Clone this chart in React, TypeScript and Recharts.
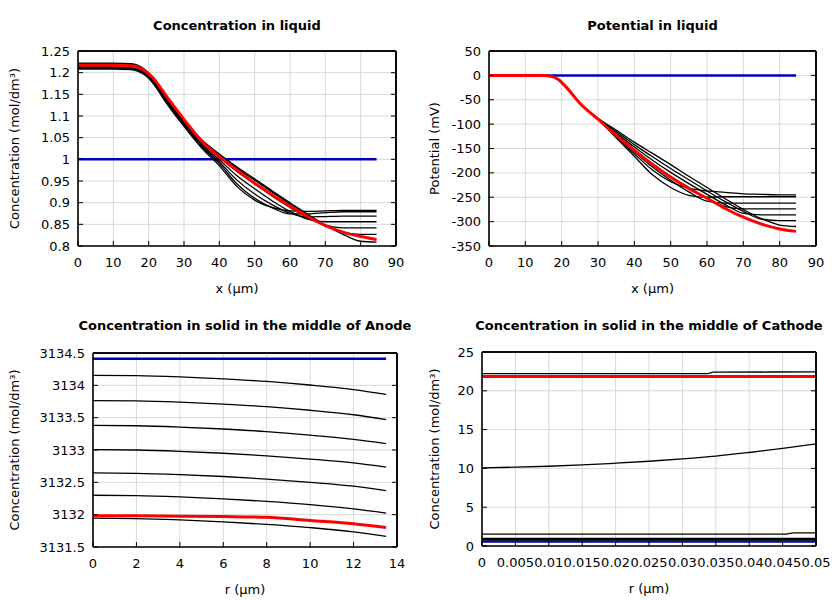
import { LineChart, Line, XAxis, YAxis, CartesianGrid, ReferenceLine } from 'recharts';

const FONT = '"DejaVu Sans", sans-serif';
const BLACK = '#000000';
const RED = '#ff0000';
const BLUE = '#0000c0';

// ---- Concentration in liquid / Potential in liquid (x in µm) ----
const liqX = [0, 5, 10, 15, 17, 19, 21, 25, 30, 35, 40, 45, 50, 55, 60, 65, 70, 75, 80, 84.5];
const liqEdgeX = [0, 84.5];
const liqConcInit = [1, 1];
const liqConcA = [1.208, 1.208, 1.208, 1.207, 1.203, 1.194, 1.178, 1.13, 1.076, 1.026, 0.985, 0.937, 0.906, 0.889, 0.881, 0.88, 0.881, 0.882, 0.882, 0.882];
const liqConcB = [1.21, 1.21, 1.21, 1.209, 1.205, 1.196, 1.18, 1.133, 1.079, 1.029, 0.99, 0.943, 0.91, 0.888, 0.874, 0.874, 0.877, 0.879, 0.879, 0.879];
const liqConcC = [1.212, 1.212, 1.212, 1.211, 1.207, 1.198, 1.182, 1.135, 1.081, 1.032, 0.994, 0.952, 0.92, 0.895, 0.876, 0.867, 0.868, 0.869, 0.869, 0.869];
const liqConcD = [1.215, 1.215, 1.215, 1.214, 1.21, 1.2, 1.184, 1.137, 1.083, 1.035, 0.999, 0.962, 0.932, 0.904, 0.88, 0.862, 0.856, 0.856, 0.856, 0.856];
const liqConcE = [1.218, 1.218, 1.218, 1.217, 1.213, 1.203, 1.187, 1.14, 1.085, 1.039, 1.005, 0.972, 0.943, 0.915, 0.889, 0.865, 0.848, 0.842, 0.842, 0.842];
const liqConcF = [1.22, 1.22, 1.22, 1.219, 1.215, 1.205, 1.189, 1.142, 1.087, 1.043, 1.01, 0.979, 0.952, 0.924, 0.897, 0.87, 0.848, 0.831, 0.827, 0.827];
const liqConcG = [1.222, 1.222, 1.222, 1.221, 1.217, 1.207, 1.19, 1.143, 1.088, 1.045, 1.012, 0.982, 0.955, 0.927, 0.9, 0.873, 0.848, 0.827, 0.811, 0.809];
const liqConcEnd = [1.217, 1.217, 1.217, 1.216, 1.213, 1.204, 1.19, 1.146, 1.092, 1.042, 1.006, 0.975, 0.945, 0.918, 0.892, 0.868, 0.847, 0.832, 0.822, 0.815];

const liqPotInit = [0, 0];
const liqPotA = [0, 0, 0, -0.5, -2, -8, -22, -57, -90, -128, -166, -204, -230, -246, -250, -249, -249, -249, -249, -249];
const liqPotB = [0, 0, 0, -0.5, -2, -8, -22, -57, -90, -126, -161, -194, -218, -232, -237, -240, -243, -244, -245, -245];
const liqPotC = [0, 0, 0, -0.5, -2, -8, -22, -57, -90, -124, -157, -188, -215, -239, -258, -262, -262, -262, -262, -262];
const liqPotD = [0, 0, 0, -0.5, -2, -8, -22, -57, -90, -121, -152, -181, -207, -230, -252, -269, -274, -274, -274, -274];
const liqPotE = [0, 0, 0, -0.5, -2, -8, -22, -57, -89, -118, -147, -174, -199, -222, -244, -265, -283, -286, -286, -286];
const liqPotF = [0, 0, 0, -0.5, -2, -8, -22, -57, -89, -115, -142, -167, -191, -214, -237, -259, -279, -295, -298, -298];
const liqPotG = [0, 0, 0, -0.5, -2, -8, -22, -57, -88, -112, -137, -160, -183, -207, -230, -253, -275, -294, -307, -310];
const liqPotEnd = [0, 0, 0, -0.5, -2, -8, -22, -57, -90, -123, -154, -183, -209, -232, -252, -273, -291, -305, -315, -320];

const liqXTicks = [0, 10, 20, 30, 40, 50, 60, 70, 80, 90];
const liqConcTicks = [0.8, 0.85, 0.9, 0.95, 1, 1.05, 1.1, 1.15, 1.2, 1.25];
const liqPotTicks = [-350, -300, -250, -200, -150, -100, -50, 0, 50];

// ---- Solid, middle of anode (r in µm) ----
const anodeX = [0, 2, 4, 6, 8, 10, 12, 13.5];
const anodeEdgeX = [0, 13.5];
const anodeInit = [3134.41, 3134.41];
const anode1 = [3134.155, 3134.15, 3134.13, 3134.1, 3134.06, 3134.005, 3133.935, 3133.86];
const anode2 = [3133.765, 3133.76, 3133.74, 3133.71, 3133.67, 3133.615, 3133.545, 3133.47];
const anode3 = [3133.38, 3133.375, 3133.355, 3133.325, 3133.285, 3133.23, 3133.165, 3133.1];
const anode4 = [3133.005, 3133.0, 3132.98, 3132.95, 3132.91, 3132.86, 3132.8, 3132.735];
const anode5 = [3132.645, 3132.64, 3132.62, 3132.59, 3132.55, 3132.5, 3132.44, 3132.37];
const anode6 = [3132.3, 3132.295, 3132.275, 3132.245, 3132.205, 3132.155, 3132.09, 3132.025];
const anode7 = [3131.945, 3131.94, 3131.92, 3131.89, 3131.85, 3131.8, 3131.735, 3131.665];
const anodeEnd = [3131.985, 3131.983, 3131.975, 3131.97, 3131.96, 3131.91, 3131.86, 3131.8];
const anodeXTicks = [0, 2, 4, 6, 8, 10, 12, 14];
const anodeYTicks = [3131.5, 3132, 3132.5, 3133, 3133.5, 3134, 3134.5];

// ---- Solid, middle of cathode (r in µm) ----
const cathX = [0, 0.005, 0.01, 0.015, 0.02, 0.025, 0.03, 0.035, 0.04, 0.045, 0.05];
const cathEdgeX = [0, 0.05];
const cathInit = [0.55, 0.55];
const cathMid = [10.08, 10.16, 10.28, 10.45, 10.67, 10.92, 11.22, 11.58, 12.05, 12.57, 13.15];
const cathTopX = [0, 0.0338, 0.0346, 0.05];
const cathTop = [22.21, 22.21, 22.4, 22.43];
const cathLowX = [0, 0.0455, 0.0467, 0.05];
const cathLow = [1.54, 1.54, 1.7, 1.7];
const cathBase1 = [0.98, 0.98];
const cathBase2 = [0.9, 0.9];
const cathBase3 = [0.82, 0.82];
const cathBase4 = [0.75, 0.75];
const cathEnd = [21.85, 21.85];
const cathXTicks = [0, 0.005, 0.01, 0.015, 0.02, 0.025, 0.03, 0.035, 0.04, 0.045, 0.05];
const cathYTicks = [0, 5, 10, 15, 20, 25];

type Series = { xs: number[]; ys: number[]; color: string; width: number };

const toPts = (xs: number[], ys: number[]) => xs.map((x, i) => ({ x, y: ys[i] }));
const blk = (xs: number[], ys: number[]): Series => ({ xs, ys, color: BLACK, width: 1.3 });

interface PanelProps {
    left: number;
    top: number;
    yAxisWidth: number;
    right: number;
    plotTop: number;
    plotBottom: number;
    title: string;
    xLabel: string;
    yLabel: string;
    xDomain: [number, number];
    xTicks: number[];
    yDomain: [number, number];
    yTicks: number[];
    series: Series[];
}

const tickStyle = { fontSize: 13, fill: '#000', fontFamily: FONT };
const frame = { stroke: '#000', strokeWidth: 1.6 };
const blank = () => '';

function Panel(p: PanelProps) {
    const cx = p.left + (p.yAxisWidth + 420 - p.right) / 2;
    return (
        <>
            <div
                style={{
                    position: 'absolute',
                    left: cx,
                    top: p.top + 18,
                    transform: 'translateX(-50%)',
                    whiteSpace: 'nowrap',
                    fontWeight: 'bold',
                    fontSize: 13,
                    lineHeight: '16px',
                }}
            >
                {p.title}
            </div>
            <div style={{ position: 'absolute', left: p.left, top: p.top }}>
                <LineChart
                    width={420}
                    height={300}
                    margin={{ top: p.plotTop - 1, right: p.right - 1, bottom: 300 - p.plotBottom - 50, left: 0 }}
                >
                    <CartesianGrid stroke="#d8d8d8" />
                    <XAxis
                        type="number"
                        dataKey="x"
                        domain={p.xDomain}
                        ticks={p.xTicks}
                        interval={0}
                        allowDataOverflow
                        height={50}
                        stroke="#000"
                        axisLine={frame}
                        tickSize={-5}
                        tickMargin={17}
                        tick={tickStyle}
                        label={{ value: p.xLabel, position: 'insideBottom', offset: 3, fill: '#000', fontSize: 13 }}
                    />
                    <XAxis
                        xAxisId="top"
                        orientation="top"
                        type="number"
                        domain={p.xDomain}
                        ticks={p.xTicks}
                        interval={0}
                        allowDataOverflow
                        height={1}
                        stroke="#000"
                        axisLine={frame}
                        tickSize={-5}
                        tickFormatter={blank}
                    />
                    <YAxis
                        type="number"
                        domain={p.yDomain}
                        ticks={p.yTicks}
                        interval={0}
                        allowDataOverflow
                        width={p.yAxisWidth}
                        stroke="#000"
                        axisLine={frame}
                        tickSize={-5}
                        tickMargin={13}
                        tick={tickStyle}
                        label={{ value: p.yLabel, angle: -90, position: 'center', dx: 14 - p.yAxisWidth / 2, fill: '#000', fontSize: 13 }}
                    />
                    <YAxis
                        yAxisId="right"
                        orientation="right"
                        type="number"
                        domain={p.yDomain}
                        ticks={p.yTicks}
                        interval={0}
                        allowDataOverflow
                        width={1}
                        stroke="#000"
                        axisLine={frame}
                        tickSize={-5}
                        tickFormatter={blank}
                    />
                    <ReferenceLine x={p.xDomain[1]} stroke="#000" strokeWidth={1.6} />
                    <ReferenceLine y={p.yDomain[1]} stroke="#000" strokeWidth={1.6} />
                    {p.series.map((s, i) => (
                        <Line
                            key={i}
                            data={toPts(s.xs, s.ys)}
                            dataKey="y"
                            type="monotone"
                            stroke={s.color}
                            strokeWidth={s.width}
                            dot={false}
                            isAnimationActive={false}
                        />
                    ))}
                </LineChart>
            </div>
        </>
    );
}

export default function App() {
    const concSeries: Series[] = [
        { xs: liqEdgeX, ys: liqConcInit, color: BLUE, width: 2.5 },
        blk(liqX, liqConcA),
        blk(liqX, liqConcB),
        blk(liqX, liqConcC),
        blk(liqX, liqConcD),
        blk(liqX, liqConcE),
        blk(liqX, liqConcF),
        blk(liqX, liqConcG),
        { xs: liqX, ys: liqConcEnd, color: RED, width: 3 },
    ];
    const potSeries: Series[] = [
        { xs: liqEdgeX, ys: liqPotInit, color: BLUE, width: 2.5 },
        blk(liqX, liqPotA),
        blk(liqX, liqPotB),
        blk(liqX, liqPotC),
        blk(liqX, liqPotD),
        blk(liqX, liqPotE),
        blk(liqX, liqPotF),
        blk(liqX, liqPotG),
        { xs: liqX, ys: liqPotEnd, color: RED, width: 3 },
    ];
    const anodeSeries: Series[] = [
        { xs: anodeEdgeX, ys: anodeInit, color: BLUE, width: 2.5 },
        blk(anodeX, anode1),
        blk(anodeX, anode2),
        blk(anodeX, anode3),
        blk(anodeX, anode4),
        blk(anodeX, anode5),
        blk(anodeX, anode6),
        blk(anodeX, anode7),
        { xs: anodeX, ys: anodeEnd, color: RED, width: 3 },
    ];
    const cathSeries: Series[] = [
        { xs: cathEdgeX, ys: cathInit, color: BLUE, width: 2 },
        blk(cathTopX, cathTop),
        blk(cathX, cathMid),
        blk(cathLowX, cathLow),
        blk(cathEdgeX, cathBase1),
        blk(cathEdgeX, cathBase2),
        blk(cathEdgeX, cathBase3),
        blk(cathEdgeX, cathBase4),
        { xs: cathEdgeX, ys: cathEnd, color: RED, width: 3 },
    ];

    return (
        <div
            style={{
                position: 'absolute',
                left: 0,
                top: 0,
                width: 840,
                height: 600,
                background: '#fff',
                fontFamily: FONT,
                color: '#000',
            }}
        >
            <Panel
                left={0}
                top={0}
                yAxisWidth={78}
                right={24}
                plotTop={51}
                plotBottom={246}
                title="Concentration in liquid"
                xLabel="x (µm)"
                yLabel="Concentration (mol/dm³)"
                xDomain={[0, 90]}
                xTicks={liqXTicks}
                yDomain={[0.8, 1.25]}
                yTicks={liqConcTicks}
                series={concSeries}
            />
            <Panel
                left={420}
                top={0}
                yAxisWidth={69}
                right={24}
                plotTop={51}
                plotBottom={246}
                title="Potential in liquid"
                xLabel="x (µm)"
                yLabel="Potential (mV)"
                xDomain={[0, 90]}
                xTicks={liqXTicks}
                yDomain={[-350, 50]}
                yTicks={liqPotTicks}
                series={potSeries}
            />
            <Panel
                left={0}
                top={300}
                yAxisWidth={93}
                right={23}
                plotTop={53}
                plotBottom={247}
                title="Concentration in solid in the middle of Anode"
                xLabel="r (µm)"
                yLabel="Concentration (mol/dm³)"
                xDomain={[0, 14]}
                xTicks={anodeXTicks}
                yDomain={[3131.5, 3134.5]}
                yTicks={anodeYTicks}
                series={anodeSeries}
            />
            <Panel
                left={420}
                top={300}
                yAxisWidth={62}
                right={24}
                plotTop={52}
                plotBottom={246}
                title="Concentration in solid in the middle of Cathode"
                xLabel="r (µm)"
                yLabel="Concentration (mol/dm³)"
                xDomain={[0, 0.05]}
                xTicks={cathXTicks}
                yDomain={[0, 25]}
                yTicks={cathYTicks}
                series={cathSeries}
            />
        </div>
    );
}
